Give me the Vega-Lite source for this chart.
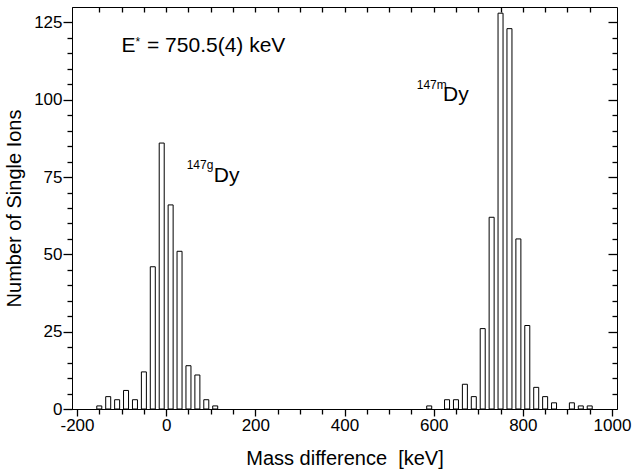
{
  "$schema": "https://vega.github.io/schema/vega-lite/v6.json",
  "width": 545,
  "height": 402,
  "autosize": {"type": "none"},
  "padding": {"left": 72, "top": 7, "right": 23, "bottom": 65},
  "background": "white",
  "config": {
    "view": {"stroke": "black", "strokeWidth": 1},
    "font": "Liberation Sans",
    "axis": {"grid": false, "domainColor": "black", "tickColor": "black", "labelColor": "black", "titleColor": "black", "labelFont": "Liberation Sans", "titleFont": "Liberation Sans", "titleFontWeight": "normal", "domainWidth": 1, "tickWidth": 1.3}
  },
  "datasets": {
    "bins": [
      {"mass": -150, "count": 1}, {"mass": -130, "count": 4}, {"mass": -110, "count": 3},
      {"mass": -90, "count": 6}, {"mass": -70, "count": 3}, {"mass": -50, "count": 12},
      {"mass": -30, "count": 46}, {"mass": -10, "count": 86}, {"mass": 10, "count": 66},
      {"mass": 30, "count": 51}, {"mass": 50, "count": 14}, {"mass": 70, "count": 11},
      {"mass": 90, "count": 3}, {"mass": 110, "count": 1},
      {"mass": 590, "count": 1}, {"mass": 630, "count": 3}, {"mass": 650, "count": 3},
      {"mass": 670, "count": 8}, {"mass": 690, "count": 4}, {"mass": 710, "count": 26},
      {"mass": 730, "count": 62}, {"mass": 750, "count": 128}, {"mass": 770, "count": 123},
      {"mass": 790, "count": 55}, {"mass": 810, "count": 27}, {"mass": 830, "count": 7},
      {"mass": 850, "count": 4}, {"mass": 870, "count": 2}, {"mass": 910, "count": 2},
      {"mass": 930, "count": 1}, {"mass": 950, "count": 1}
    ],
    "bigText": [
      {"mass": -100, "count": 115.3, "label": "E"},
      {"mass": -43, "count": 115.3, "label": "= 750.5(4) keV"},
      {"mass": 107, "count": 73.4, "label": "Dy"},
      {"mass": 621, "count": 99.5, "label": "Dy"}
    ],
    "smallText": [
      {"mass": -69, "count": 117.5, "label": "*"},
      {"mass": 46, "count": 77.5, "label": "147g"},
      {"mass": 562, "count": 103.5, "label": "147m"}
    ]
  },
  "layer": [
    {
      "data": {"name": "bins"},
      "mark": {"type": "bar", "width": 5, "fill": "white", "stroke": "black", "strokeWidth": 1},
      "encoding": {
        "x": {"field": "mass", "type": "quantitative", "scale": {"domain": [-200, 1000], "nice": false, "zero": false},
          "axis": {"orient": "bottom", "values": [-200, 0, 200, 400, 600, 800, 1000], "labelExpr": "datum.value + ''", "tickSize": 7, "labelFontSize": 17, "labelPadding": 1, "title": "Mass difference\u00a0 [keV]", "titleFontSize": 20, "titlePadding": 15, "labelFlush": false}},
        "y": {"field": "count", "type": "quantitative", "scale": {"domain": [0, 130], "nice": false},
          "axis": {"orient": "left", "values": [0, 25, 50, 75, 100, 125], "tickSize": 9, "labelFontSize": 17, "labelPadding": 1, "title": "Number of Single Ions", "titleFontSize": 20, "titlePadding": 9}}
      }
    },
    {
      "data": {"name": "bins"},
      "mark": {"type": "bar", "width": 5, "opacity": 0},
      "encoding": {
        "x": {"field": "mass", "type": "quantitative", "axis": {"orient": "bottom", "values": [-150, -100, -50, 50, 100, 150, 250, 300, 350, 450, 500, 550, 650, 700, 750, 850, 900, 950], "tickSize": 5, "labels": false, "title": null, "domain": false}},
        "y": {"field": "count", "type": "quantitative", "axis": {"orient": "left", "values": [5, 10, 15, 20, 30, 35, 40, 45, 55, 60, 65, 70, 80, 85, 90, 95, 105, 110, 115, 120], "tickSize": 5, "labels": false, "title": null, "domain": false}}
      }
    },
    {
      "data": {"name": "bins"},
      "mark": {"type": "bar", "width": 5, "opacity": 0},
      "encoding": {
        "x": {"field": "mass", "type": "quantitative", "axis": {"orient": "bottom", "offset": -402, "values": [-150, -100, -50, 0, 50, 100, 150, 200, 250, 300, 350, 400, 450, 500, 550, 600, 650, 700, 750, 800, 850, 900, 950], "tickSize": 5, "labels": false, "title": null, "domain": false}},
        "y": {"field": "count", "type": "quantitative", "axis": {"orient": "left", "offset": -545, "values": [5, 10, 15, 20, 30, 35, 40, 45, 55, 60, 65, 70, 80, 85, 90, 95, 105, 110, 115, 120], "tickSize": 5, "labels": false, "title": null, "domain": false}}
      }
    },
    {
      "data": {"name": "bins"},
      "mark": {"type": "bar", "width": 5, "opacity": 0},
      "encoding": {
        "x": {"field": "mass", "type": "quantitative", "axis": null},
        "y": {"field": "count", "type": "quantitative", "axis": {"orient": "left", "offset": -545, "values": [25, 50, 75, 100, 125], "tickSize": 9, "labels": false, "title": null, "domain": false}}
      }
    },
    {
      "data": {"name": "bigText"},
      "mark": {"type": "text", "align": "left", "baseline": "alphabetic", "fontSize": 21, "font": "Liberation Sans", "color": "black"},
      "encoding": {
        "x": {"field": "mass", "type": "quantitative", "axis": null},
        "y": {"field": "count", "type": "quantitative", "axis": null},
        "text": {"field": "label"}
      }
    },
    {
      "data": {"name": "smallText"},
      "mark": {"type": "text", "align": "left", "baseline": "alphabetic", "fontSize": 12, "font": "Liberation Sans", "color": "black"},
      "encoding": {
        "x": {"field": "mass", "type": "quantitative", "axis": null},
        "y": {"field": "count", "type": "quantitative", "axis": null},
        "text": {"field": "label"}
      }
    }
  ],
  "resolve": {"axis": {"x": "independent", "y": "independent"}}
}
